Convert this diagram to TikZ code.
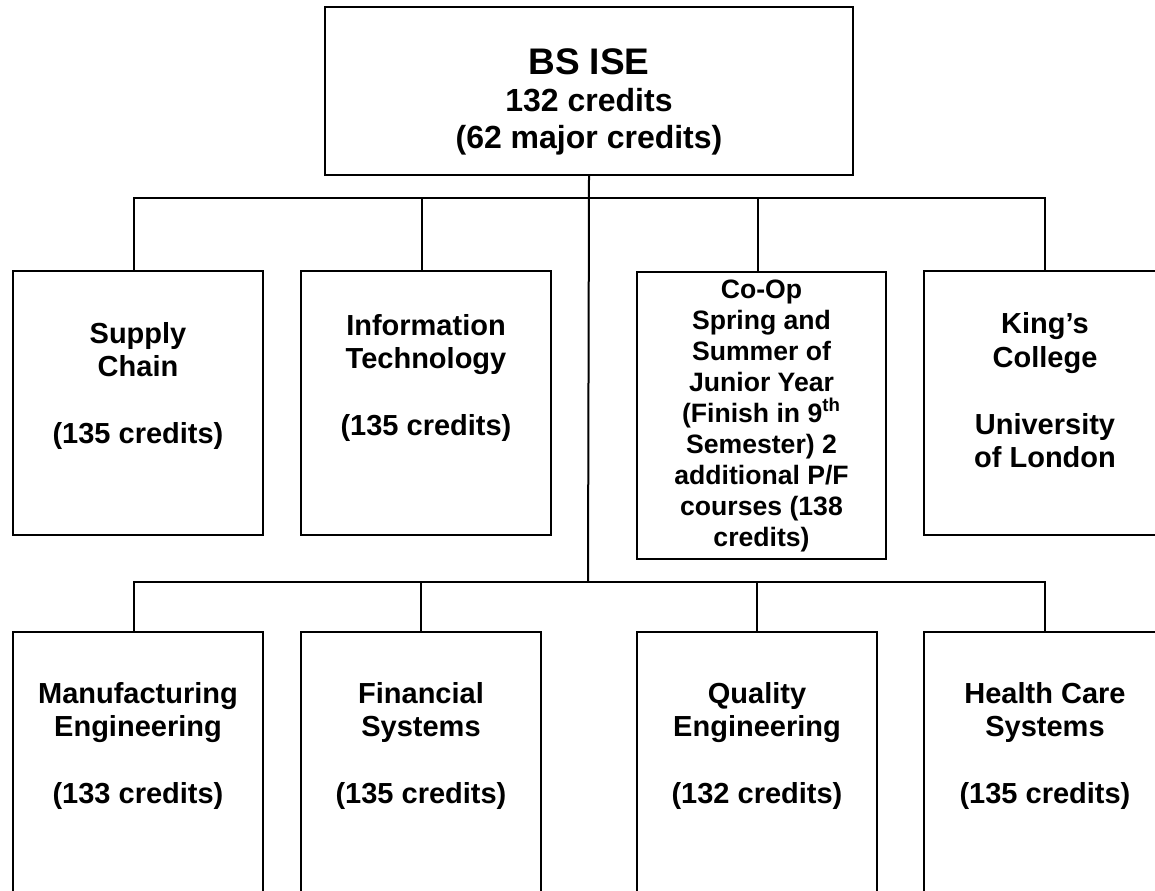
\documentclass[tikz,border=0pt]{standalone}
\usepackage{fontspec}
\setmainfont{Liberation Sans}

\begin{document}
\begin{tikzpicture}[x=0.5pt, y=-0.5pt,
    box/.style={draw, line width=1pt, inner sep=0pt, anchor=north west, align=center,
      font=\bfseries\fontsize{14.5pt}{16.75pt}\selectfont},
    wire/.style={line width=1pt}]
  \useasboundingbox (0,0) rectangle (1155,890);
  \clip (0,0) rectangle (1155,890);

  \node[box, minimum width=264pt, minimum height=84pt,
        font=\bfseries\fontsize{16pt}{18.5pt}\selectfont] (ise) at (324,6)
    {\rule{0pt}{23.4pt}\fontsize{18.5pt}{18.5pt}\selectfont BS ISE\\132 credits\\(62 major credits)};

  \node[box, minimum width=125pt, minimum height=132pt] (sc) at (12,270)
    {Supply\\Chain\\[16.75pt](135 credits)\\[3.25pt]\mbox{}};
  \node[box, minimum width=125pt, minimum height=132pt] (it) at (300,270)
    {Information\\Technology\\[16.75pt](135 credits)\\[11.25pt]\mbox{}};
  \node[box, minimum width=124.5pt, minimum height=143.5pt,
        font=\bfseries\fontsize{13.3pt}{15.5pt}\selectfont] (co) at (636,271)
    {Co-Op\\Spring and\\Summer of\\Junior Year\\(Finish in 9\textsuperscript{th}\\Semester) 2\\additional P/F\\courses (138\\credits)};
  \node[box, minimum width=121pt, minimum height=132pt] (kc) at (923,270)
    {King’s\\College\\[16.75pt]University\\of London\\[-3.75pt]\mbox{}};

  \node[box, minimum width=125pt, minimum height=160pt] (me) at (12,631)
    {Manufacturing\\Engineering\\[16.75pt](133 credits)\\[32.25pt]\mbox{}};
  \node[box, minimum width=120pt, minimum height=160pt] (fs) at (300,631)
    {Financial\\Systems\\[16.75pt](135 credits)\\[32.25pt]\mbox{}};
  \node[box, minimum width=120pt, minimum height=160pt] (qe) at (636,631)
    {Quality\\Engineering\\[16.75pt](132 credits)\\[32.25pt]\mbox{}};
  \node[box, minimum width=121pt, minimum height=160pt] (hc) at (923,631)
    {Health Care\\Systems\\[16.75pt](135 credits)\\[32.25pt]\mbox{}};

  \coordinate (top) at (588,198);
  \coordinate (mid) at (588,582);

  \draw[wire] (ise.south) -- (mid);
  \draw[wire] ([xshift=-2pt]sc.north) |- (kc.north |- top) -- (kc.north);
  \draw[wire] ([xshift=-2pt]it.north) -- ([xshift=-2pt]it.north |- top);
  \draw[wire] ([xshift=-2pt]co.north) -- ([xshift=-2pt]co.north |- top);

  \draw[wire] ([xshift=-2pt]me.north) |- (hc.north |- mid) -- (hc.north);
  \draw[wire] (fs.north) -- (fs.north |- mid);
  \draw[wire] (qe.north) -- (qe.north |- mid);
\end{tikzpicture}
\end{document}
